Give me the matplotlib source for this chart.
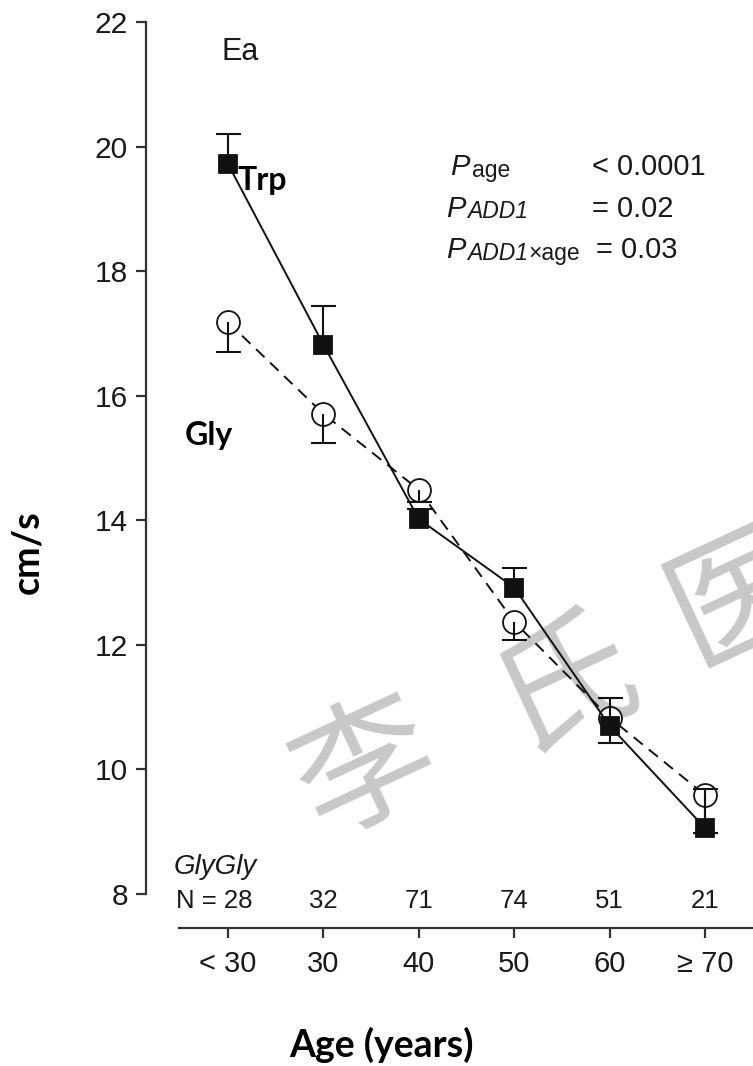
import matplotlib
matplotlib.use("Agg")
import matplotlib.pyplot as plt
import numpy as np

# ---- data -------------------------------------------------------------
age_groups = ["< 30", "30", "40", "50", "60", "\u2265 70"]
n_glygly = [28, 32, 71, 74, 51, 21]

trp_mean = [19.72, 16.82, 14.02, 12.92, 10.70, 9.06]
trp_sem = [0.48, 0.62, 0.16, 0.32, 0.27, 0.63]
trp_bar_dir = [1, 1, 1, 1, -1, 1]          # +1 bar drawn upward, -1 downward

gly_mean = [17.18, 15.71, 14.49, 12.37, 10.83, 9.59]
gly_sem = [0.48, 0.47, 0.19, 0.29, 0.32, 0.61]
gly_bar_dir = [-1, -1, -1, -1, 1, -1]

y_ticks = [8, 10, 12, 14, 16, 18, 20, 22]
# subscript pieces: (italic part, roman part)
p_subscripts = [("", "age"), ("ADD1", ""), ("ADD1", "\u00d7age")]
p_values = ["< 0.0001", "= 0.02", "= 0.03"]

# ---- style ------------------------------------------------------------
plt.rcParams["font.family"] = ["Liberation Sans", "DejaVu Sans"]

W, H = 753, 1066
fig = plt.figure(figsize=(W / 100, H / 100), dpi=100)


def fx(px):
    return px / W


def fy(py):
    return 1 - py / H


ax = fig.add_axes([fx(146), fy(928), fx(753) - fx(146), fy(10) - fy(928)])
ax.patch.set_alpha(0)
ax.set_xlim(-0.8595, 5.503)
ax.set_ylim(7.454, 22.193)

x = np.arange(len(age_groups))
ink = "#111111"
text_col = "#1a1a1a"


def draw_series(mean, sem, bar_dir, ls, marker, ms, face, z):
    mean = np.asarray(mean)
    tips = mean + np.asarray(bar_dir) * np.asarray(sem)
    ax.plot(x, mean, ls=ls, color=ink, lw=1.4, zorder=z,
            dashes=(6, 4) if ls == "--" else (None, None))
    ax.vlines(x, mean, tips, color=ink, lw=1.5, zorder=z + 1)
    ax.plot(x, tips, ls="none", marker="_", ms=18, mew=1.5, color=ink,
            zorder=z + 1)
    ax.plot(x, mean, ls="none", marker=marker, ms=ms, mfc=face, mec=ink,
            mew=1.3, zorder=z + 0.5)


draw_series(gly_mean, gly_sem, gly_bar_dir, "--", "o", 16.5, "white", 2)
draw_series(trp_mean, trp_sem, trp_bar_dir, "-", "s", 13, ink, 4)

# ---- axes -------------------------------------------------------------
for side in ("top", "right"):
    ax.spines[side].set_visible(False)
ax.spines["left"].set_bounds(8, 22)
ax.spines["bottom"].set_bounds(-0.514, 5.503)
for side in ("left", "bottom"):
    ax.spines[side].set_linewidth(1.6)
    ax.spines[side].set_color("#333333")

ax.set_yticks(y_ticks)
ax.set_yticklabels([str(v) for v in y_ticks])
ax.set_xticks(x)
ax.set_xticklabels(age_groups)
ax.tick_params(axis="y", direction="out", length=7, width=1.6,
               color="#333333", labelsize=21.5, pad=6, labelcolor=text_col)
ax.tick_params(axis="x", direction="out", length=7, width=1.6,
               color="#333333", labelsize=21, pad=9, labelcolor=text_col)

# sample sizes under the curves
ax.text(-0.57, 8.32, "GlyGly", style="italic", fontsize=20,
        color=text_col, va="baseline", ha="left")
ax.text(0.26, 7.78, f"N = {n_glygly[0]}", fontsize=18.5, color=text_col,
        va="baseline", ha="right")
for xi, n in zip(x[1:], n_glygly[1:]):
    ax.text(xi, 7.78, str(n), fontsize=18.5, color=text_col,
            va="baseline", ha="center")

# ---- annotations ------------------------------------------------------
fig.text(fx(222), fy(60), "Ea", fontsize=22, color=text_col,
         va="baseline")

bold = dict(family=["Lato", "DejaVu Sans"], weight="bold", color="black")
fig.text(fx(238), fy(190), "Trp", fontsize=23, va="baseline", **bold)
fig.text(fx(185), fy(445), "Gly", fontsize=23, va="baseline", **bold)

rows_y = [175, 217, 258]
sub_dy = [7, 6, 7]
p_x = [450, 446, 446]
v_x = [592, 592, 596]
for (sub_it, sub_rm), val, yy, dy, px, vx in zip(p_subscripts, p_values,
                                                 rows_y, sub_dy, p_x, v_x):
    fig.text(fx(px), fy(yy), "P", style="italic", fontsize=21,
             color=text_col, va="baseline")
    t_it = fig.text(fx(px + 21), fy(yy + dy), sub_it, style="italic",
                    fontsize=16.5, color=text_col, va="bottom")
    if sub_rm:
        if sub_it:
            fig.texts.append(matplotlib.text.Annotation(
                sub_rm, xy=(1, 0), xycoords=t_it, fontsize=16.5,
                color=text_col, ha="left", va="bottom"))
            fig.texts[-1].set_figure(fig)
        else:
            fig.text(fx(px + 22), fy(yy + dy), sub_rm, fontsize=16.5,
                     color=text_col, va="bottom")
    fig.text(fx(vx), fy(yy), val, fontsize=21, color=text_col,
             va="baseline")

fig.text(fx(27), fy(552), "cm/s", rotation=90, fontsize=27,
         ha="center", va="center", **bold)
fig.text(fx(381), fy(1057), "Age (years)", fontsize=27,
         ha="center", va="baseline", **bold)

# watermark
for ch, cx, cy in zip("李氏医", [367, 566, 740], [773, 683, 598]):
    fig.text(fx(cx), fy(cy), ch, fontsize=100, rotation=25,
             rotation_mode="anchor", ha="center", va="center",
             color="#c8c8c8", family=["Noto Sans CJK SC"], weight="light",
             zorder=-1)

fig.savefig("out.png", dpi=100)
